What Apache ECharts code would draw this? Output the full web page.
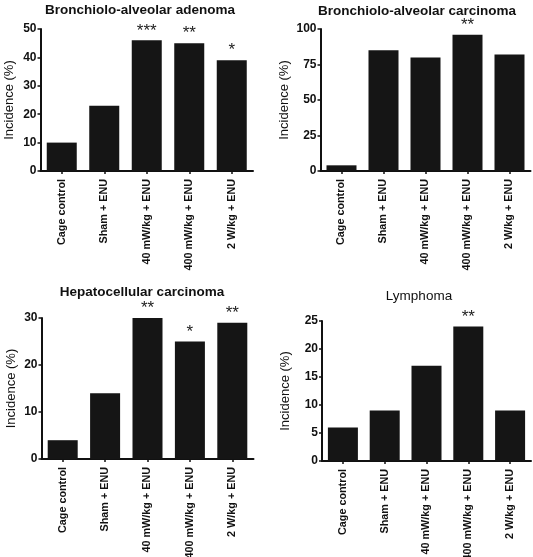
<!DOCTYPE html>
<html>
<head>
<meta charset="utf-8">
<script src="https://cdn.jsdelivr.net/npm/echarts@6/dist/echarts.min.js"></script>
<style>html,body{margin:0;padding:0;background:#fff;}#c{width:533px;height:557px;}</style>
</head>
<body>
<div id="c"></div>
<script>
var categories = ['Cage control', 'Sham + ENU', '40 mW/kg + ENU', '400 mW/kg + ENU', '2 W/kg + ENU'];

var titles = ['Bronchiolo-alveolar adenoma', 'Bronchiolo-alveolar carcinoma', 'Hepatocellular carcinoma', 'Lymphoma'];

var adenoma = [10, 23, 46, 45, 39];
var adenomaStars = ['', '', '***', '**', '*'];

var carcinoma = [4, 85, 80, 96, 82];
var carcinomaStars = ['', '', '', '**', ''];

var hepato = [4, 14, 30, 25, 29];
var hepatoStars = ['', '', '**', '*', '**'];

var lymphoma = [6, 9, 17, 24, 9];
var lymphomaStars = ['', '', '', '**', ''];

var yMax = [50, 100, 30, 25];
var yStep = [10, 25, 10, 5];

var values = [adenoma, carcinoma, hepato, lymphoma];
var stars = [adenomaStars, carcinomaStars, hepatoStars, lymphomaStars];

var FONT = '"Liberation Sans", Arial, sans-serif';
var INK = '#111';

var grids = [
  {left: 40.5, top: 29, width: 212.5, height: 142},
  {left: 320.5, top: 29, width: 210, height: 142},
  {left: 41.5, top: 318, width: 212, height: 141},
  {left: 322, top: 321, width: 209, height: 140}
];
var nameGaps = [25, 30, 24, 30];
var titlePos = [
  {left: 140, top: 3, weight: 'bold', size: 13.5},
  {left: 417, top: 4, weight: 'bold', size: 13.5},
  {left: 142, top: 285, weight: 'bold', size: 13.5},
  {left: 419, top: 289, weight: 'normal', size: 13.5}
];

var option = {
  animation: false,
  backgroundColor: '#fff',
  title: titles.map(function (t, i) {
    return {
      text: t, left: titlePos[i].left, top: titlePos[i].top, textAlign: 'center', padding: 0,
      textStyle: {fontFamily: FONT, fontSize: titlePos[i].size, fontWeight: titlePos[i].weight, color: INK}
    };
  }),
  grid: grids.map(function (g) { return Object.assign({containLabel: false, outerBoundsMode: 'none'}, g); }),
  xAxis: grids.map(function (g, i) {
    return {
      type: 'category', gridIndex: i, data: categories, boundaryGap: true,
      axisLine: {lineStyle: {color: INK, width: 2}},
      axisTick: {show: true, alignWithLabel: true, length: 3, lineStyle: {color: INK, width: 1.5}},
      axisLabel: {rotate: 90, margin: 8, interval: 0, fontFamily: FONT, fontSize: 10.8, fontWeight: 'bold', color: INK}
    };
  }),
  yAxis: grids.map(function (g, i) {
    return {
      type: 'value', gridIndex: i, min: 0, max: yMax[i], interval: yStep[i],
      name: 'Incidence (%)', nameLocation: 'middle', nameGap: nameGaps[i],
      nameTextStyle: {fontFamily: FONT, fontSize: 13, color: INK},
      splitLine: {show: false},
      axisLine: {show: true, lineStyle: {color: INK, width: 2}},
      axisTick: {show: true, length: 3, lineStyle: {color: INK, width: 1.5}},
      axisLabel: {margin: 4, fontFamily: FONT, fontSize: 12, fontWeight: 'bold', color: INK}
    };
  }),
  series: values.map(function (v, i) {
    return {
      type: 'bar', xAxisIndex: i, yAxisIndex: i, data: v, barWidth: 30,
      itemStyle: {color: '#151515'},
      label: {
        show: true, position: 'top', distance: 1,
        fontFamily: FONT, fontSize: 17, color: '#222',
        formatter: function (p) { return stars[i][p.dataIndex]; }
      }
    };
  })
};

echarts.init(document.getElementById('c'), null, {renderer: 'canvas'}).setOption(option);
</script>
</body>
</html>
